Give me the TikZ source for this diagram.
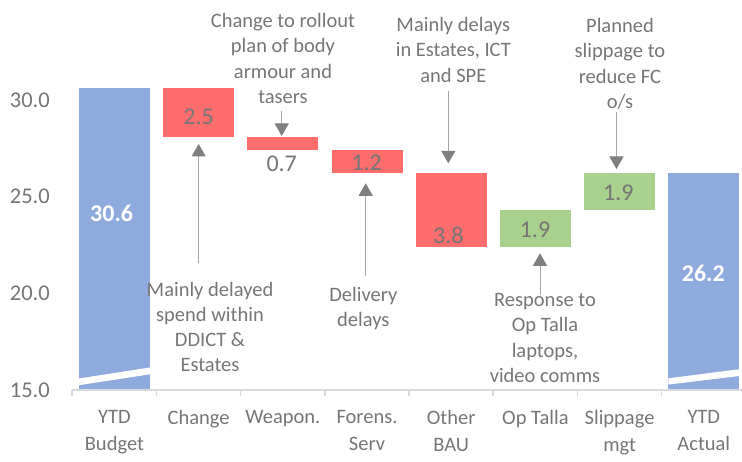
\documentclass[tikz,border=0pt]{standalone}
\usepackage{fontspec}
\setmainfont{Carlito}
\usetikzlibrary{arrows.meta}
\definecolor{budgetblue}{HTML}{8FAADC}
\definecolor{lossred}{HTML}{FF6D6D}
\definecolor{gaingreen}{HTML}{A9D18E}
\definecolor{labelgray}{HTML}{767676}
\definecolor{axisgray}{HTML}{D9D9D9}
\definecolor{leadgray}{HTML}{A6A6A6}
\definecolor{headgray}{HTML}{7F7F7F}
\begin{document}
\begin{tikzpicture}[x=1pt, y=-1pt,
  bar/.style={draw=none, inner sep=0pt, outer sep=0pt, minimum width=71pt, anchor=north west},
  valuelabel/.style={inner sep=0pt, text=labelgray, font=\fontsize{24}{28}\selectfont},
  totallabel/.style={inner sep=0pt, text=white, font=\fontsize{24}{28}\selectfont\bfseries},
  note/.style={inner sep=0pt, anchor=north, align=center, text=labelgray, font=\fontsize{20.5}{25.2}\selectfont},
  category/.style={inner sep=0pt, anchor=north, align=center, text=labelgray, font=\fontsize{20.5}{26.6}\selectfont},
  ticklabel/.style={inner sep=0pt, anchor=east, text=labelgray, font=\fontsize{22.5}{26}\selectfont},
  callout/.style={draw=leadgray, line width=1pt,
    -{Triangle[width=14pt, length=12.5pt, fill=headgray, color=headgray]}},
  axisline/.style={draw=axisgray, line width=1.5pt},
  breakband/.style={fill=white, draw=none}]
\useasboundingbox (0,0) rectangle (742,462);

% value axis labels
\node[ticklabel] (y30) at (50,100.0) {30.0};
\node[ticklabel] (y25) at (50,196.7) {25.0};
\node[ticklabel] (y20) at (50,293.3) {20.0};
\node[ticklabel] (y15) at (50,390.0) {15.0};

% waterfall bars
\node[bar, fill=budgetblue, minimum height=301.6pt] (budget) at (78.9,88.4) {};
\node[bar, fill=lossred,    minimum height=48.3pt]  (change) at (163.1,88.4) {};
\node[bar, fill=lossred,    minimum height=13.6pt]  (weapon) at (247.3,136.7) {};
\node[bar, fill=lossred,    minimum height=23.2pt]  (forens) at (331.5,150.3) {};
\node[bar, fill=lossred,    minimum height=73.4pt]  (other)  at (415.7,173.5) {};
\node[bar, fill=gaingreen,  minimum height=36.7pt]  (talla)  at (499.9,210.2) {};
\node[bar, fill=gaingreen,  minimum height=36.7pt]  (slip)   at (584.1,173.5) {};
\node[bar, fill=budgetblue, minimum height=216.5pt] (actual) at (668.3,173.5) {};

% axis break marks on the two total bars
\path[breakband] (78.9,378.5) -- (149.9,367.5) -- (149.9,374.3) -- (78.9,385.2) -- cycle;
\path[breakband] (668.3,378.3) -- (739.3,369.2) -- (739.3,376.0) -- (668.3,384.6) -- cycle;

% category axis
\draw[axisline] (72.2,390) -- (742,390);
\foreach \tx in {72.2,156.4,240.6,324.8,409.0,493.2,577.4,661.6}
  \draw[axisline] (\tx,390) -- (\tx,396);

% value labels
\node[totallabel] (vbudget) at (111.7,213.7) {30.6};
\node[valuelabel] (vchange) at (198.6,116.7) {2.5};
\node[valuelabel] (vweapon) at (281.7,164.0) {0.7};
\node[valuelabel] (vforens) at (366.7,163.3) {1.2};
\node[valuelabel] (vother)  at (448.3,235.0) {3.8};
\node[valuelabel] (vtalla)  at (535.0,230.0) {1.9};
\node[valuelabel] (vslip)   at (618.3,193.3) {1.9};
\node[totallabel] (vactual) at (703.3,273.3) {26.2};

% category labels
\node[category] (cbudget) at (114.4,410.3) {YTD\\Budget};
\node[category] (cchange) at (198.6,410.3) {Change};
\node[category] (cweapon) at (282.8,410.3) {Weapon.};
\node[category] (cforens) at (367.0,410.3) {Forens.\\Serv};
\node[category] (cother)  at (451.2,410.3) {Other\\BAU};
\node[category] (ctalla)  at (535.4,410.3) {Op Talla};
\node[category] (cslip)   at (619.6,410.3) {Slippage\\mgt};
\node[category] (cactual) at (703.8,410.3) {YTD\\Actual};

% explanatory notes
\node[note] (nweapon) at (283.0,13.3)  {Change to rollout\\plan of body\\armour and\\tasers};
\node[note] (nchange) at (210.0,281.7) {Mainly delayed\\spend within\\DDICT \&\\Estates};
\node[note] (nforens) at (363.3,287.3) {Delivery\\delays};
\node[note] (nother)  at (453.3,17.3)  {Mainly delays\\in Estates, ICT\\and SPE};
\node[note] (ntalla)  at (545.0,293.3) {Response to\\Op Talla\\laptops,\\video comms};
\node[note] (nslip)   at (620.0,18.3)  {Planned\\slippage to\\reduce FC\\o/s};

% callout leaders
\coordinate (lweapon0) at (281.7,111.0);  \coordinate (lweapon1) at (281.7,136.0);
\coordinate (lchange0) at (198.7,262.7);  \coordinate (lchange1) at (198.7,144.0);
\coordinate (lforens0) at (365.7,275.7);  \coordinate (lforens1) at (365.7,183.3);
\coordinate (lother0)  at (448.3,90.7);   \coordinate (lother1)  at (448.3,163.3);
\coordinate (ltalla0)  at (540.0,295.0);  \coordinate (ltalla1)  at (540.0,253.3);
\coordinate (lslip0)   at (616.5,111.7);  \coordinate (lslip1)   at (616.5,169.0);
\draw[callout] (lweapon0) -- (lweapon1);
\draw[callout] (lchange0) -- (lchange1);
\draw[callout] (lforens0) -- (lforens1);
\draw[callout] (lother0)  -- (lother1);
\draw[callout] (ltalla0)  -- (ltalla1);
\draw[callout] (lslip0)   -- (lslip1);
\end{tikzpicture}
\end{document}
